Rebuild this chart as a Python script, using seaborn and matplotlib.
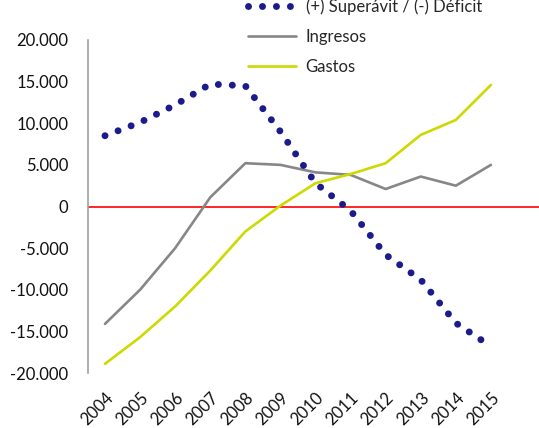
import matplotlib
matplotlib.use("Agg")
import matplotlib.pyplot as plt
import seaborn as sns
import numpy as np
import pandas as pd

years = ["2004", "2005", "2006", "2007", "2008", "2009", "2010", "2011", "2012", "2013", "2014", "2015"]
superavit = [8500, 10100, 12200, 14700, 14500, 9000, 2800, -500, -5800, -8800, -14000, -16800]
ingresos = [-14100, -10000, -5000, 1100, 5200, 5000, 4100, 3800, 2100, 3600, 2500, 5000]
gastos = [-18900, -15700, -12000, -7700, -3000, 100, 2800, 3900, 5200, 8600, 10400, 14600]
yticks = [-20000, -15000, -10000, -5000, 0, 5000, 10000, 15000, 20000]
ytick_labels = ["-20.000", "-15.000", "-10.000", "-5.000", "0", "5.000", "10.000", "15.000", "20.000"]

sns.set_theme(style="white")
plt.rcParams["font.family"] = ["Lato", "DejaVu Sans"]

fig = plt.figure(figsize=(5.39, 4.28), dpi=100)
ax = fig.add_axes([88/539, 55/428, 1 - 88/539, 333/428])

x = np.arange(len(years))
df = pd.DataFrame({"x": x, "sup": superavit, "ing": ingresos, "gas": gastos})

ax.axhline(0, color="#FF0000", lw=1.2, zorder=1)
sns.lineplot(data=df, x="x", y="sup", ax=ax, color="#1B1B8C", lw=5.0,
             linestyle=(0, (0.01, 2.0)), dash_capstyle="round",
             label="(+) Superávit / (-) Déficit", zorder=3)
sns.lineplot(data=df, x="x", y="ing", ax=ax, color="#878787", lw=1.9,
             label="Ingresos", zorder=2)
sns.lineplot(data=df, x="x", y="gas", ax=ax, color="#CDD900", lw=1.9,
             label="Gastos", zorder=2)

ax.set_xlim(-0.484, 12.37)
ax.set_ylim(-20000, 20000)
ax.set_yticks(yticks)
ax.set_yticklabels(ytick_labels, fontsize=12, color="#111111")
ax.set_xticks(x)
ax.set_xticklabels(years, rotation=45, ha="right", va="top",
                   rotation_mode="anchor", fontsize=12, color="#111111")
ax.tick_params(axis="y", length=0, pad=14)
ax.tick_params(axis="x", length=0, pad=12)
ax.set_xlabel("")
ax.set_ylabel("")
for s in ["top", "right", "bottom"]:
    ax.spines[s].set_visible(False)
ax.spines["left"].set_color("#A0A0A0")
ax.spines["left"].set_linewidth(1.2)

ax.get_legend().remove()
h, l = ax.get_legend_handles_labels()
leg = fig.legend(h, l, loc="upper left", bbox_to_anchor=(248/539, 1.0 + 2/428),
                 frameon=False, fontsize=12, handlelength=2.9,
                 handletextpad=0.55, labelspacing=0.85, borderpad=0, borderaxespad=0)

fig.savefig("out.png", dpi=100)
